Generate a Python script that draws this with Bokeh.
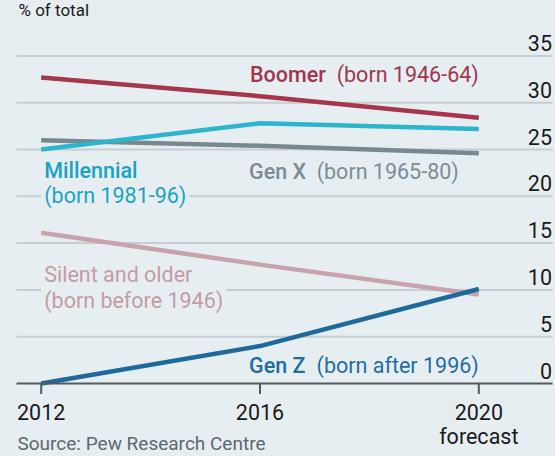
from bokeh.plotting import figure
from bokeh.models import Range1d, Label
from bokeh.core.properties import value
from bokeh.embed import file_html
from bokeh.resources import INLINE

# ---- data ----
years = [2012, 2016, 2020]
boomer = [32.7, 30.7, 28.4]
millennial = [25.0, 27.8, 27.2]
gen_x = [26.0, 25.4, 24.6]
silent = [16.1, 12.7, 9.5]
gen_z = [0.0, 4.0, 10.1]

y_ticks = [0, 5, 10, 15, 20, 25, 30, 35]
y_tick_labels = ["0", "5", "10", "15", "20", "25", "30", "35"]
x_ticks = [2012, 2016, 2020]
x_tick_labels = ["2012", "2016", "2020"]
x_note = "forecast"

# ---- styling / layout ----
BG = "#e7eef2"
FONT = "Roboto"
FONT_M = "Roboto Medium"
FS = "21.5px"
C_BOOMER = "#a5364c"
C_MILL = "#2db4cf"
C_GENX = "#77888f"
C_SILENT = "#c8a3ac"
C_GENZ = "#1f6a9c"
AXC = "#555a5e"
W, H = 555, 456
XP0, XS = 40.7, 54.7      # pixel of first year, pixels per year
YP0, PXU = 383.0, 9.36    # pixel of zero line, pixels per unit
SH = 8 / PXU              # baseline correction for text


def xd(px):
    return years[0] + (px - XP0) / XS


def yd(py):
    return (YP0 - py) / PXU


p = figure(width=W, height=H,
           x_range=Range1d(xd(0), xd(W)), y_range=Range1d(yd(H), yd(0)),
           min_border=0, x_axis_location=None, y_axis_location=None,
           toolbar_location=None, output_backend="svg",
           background_fill_color=BG, border_fill_color=BG, outline_line_color=None,
           title=None)
p.grid.visible = False

XA, XB = xd(16), xd(552)

# horizontal grid lines (lowest level, so label boxes can interrupt them)
gt = y_ticks[1:]
p.segment(x0=[XA] * len(gt), y0=gt, x1=[XB] * len(gt), y1=gt,
          line_color="#c6ced3", line_width=2, level="image")

# labels with background boxes (drawn above the grid, under the lines)
def boxed(x, y, text, color, font=FONT):
    p.add_layout(Label(x=x, y=y + SH, text=text, text_font=font, text_font_size=FS,
                       text_color=color, text_align="left", text_baseline="alphabetic",
                       background_fill_color=BG, padding=3, level="underlay"))

boxed(years[0], yd(178.3), "Millennial", "#1aa3c5", font=FONT_M)
boxed(years[0], yd(203.3), "(born 1981-96)", "#1aa3c5")
boxed(years[0], yd(281.7), "Silent and older", "#c39ca6")
boxed(years[0], yd(308.3), "(born before 1946)", "#c39ca6")

# series lines
for ys, c in [(silent, C_SILENT), (gen_x, C_GENX), (millennial, C_MILL),
              (boomer, C_BOOMER), (gen_z, C_GENZ)]:
    p.line(years, ys, line_color=c, line_width=4.5, line_join="round")

# x axis: baseline, ticks, tick labels
p.segment(x0=[XA], y0=[0], x1=[XB], y1=[0], line_color=AXC, line_width=2)
p.segment(x0=x_ticks, y0=[0] * len(x_ticks), x1=x_ticks, y1=[yd(393.5)] * len(x_ticks),
          line_color=AXC, line_width=2)
p.text(x=x_ticks, y=[yd(419.5) + SH] * len(x_ticks), text=x_tick_labels,
       text_align="center", text_baseline="alphabetic",
       text_font=value(FONT), text_font_size=value(FS), text_color="#1a1a1a")
p.text(x=[x_ticks[-1]], y=[yd(443.5) + SH], text=[x_note],
       text_align="center", text_baseline="alphabetic",
       text_font=value(FONT), text_font_size=value(FS), text_color="#1a1a1a")

# right-hand y tick labels (above their grid lines)
p.text(x=[xd(551.5)] * len(y_ticks), y=[t + 5 / PXU + SH for t in y_ticks], text=y_tick_labels,
       text_align="right", text_baseline="alphabetic",
       text_font=value(FONT), text_font_size=value(FS), text_color="#1a1a1a")

# name + year labels
def lab(x, y, text, color, font=FONT, align="left", xo=0, fs=FS):
    p.add_layout(Label(x=x, y=y + SH, text=text, x_offset=xo, text_font=font, text_font_size=fs,
                       text_color=color, text_align=align, text_baseline="alphabetic"))

lab(years[1], yd(82.3), "Boomer", "#a0374d", font=FONT_M, xo=-10)
lab(years[2], yd(82.3), "(born 1946-64)", "#a0374d", align="right")
lab(years[1], yd(179), "Gen X", "#7b8c96", font=FONT_M, xo=-11)
lab(years[2], yd(179), "(born 1965-80)", "#7b8c96", align="right", xo=-20)
lab(years[1], yd(373.3), "Gen Z", "#1e6ea5", font=FONT_M, xo=-11)
lab(years[2], yd(373.3), "(born after 1996)", "#1e6ea5", align="right")

# source and unit
lab(xd(17), yd(451), "Source: Pew Research Centre", "#5c6870", fs="19px")
lab(xd(18), yd(17), "% of total", "#1a1a1a", fs="17px")

html = file_html(p, INLINE, title="Generations")
html = html.replace("<head>", "<head><style>html,body{margin:0;padding:0;background:%s;}</style>" % BG, 1)
open("out.html", "w").write(html)
